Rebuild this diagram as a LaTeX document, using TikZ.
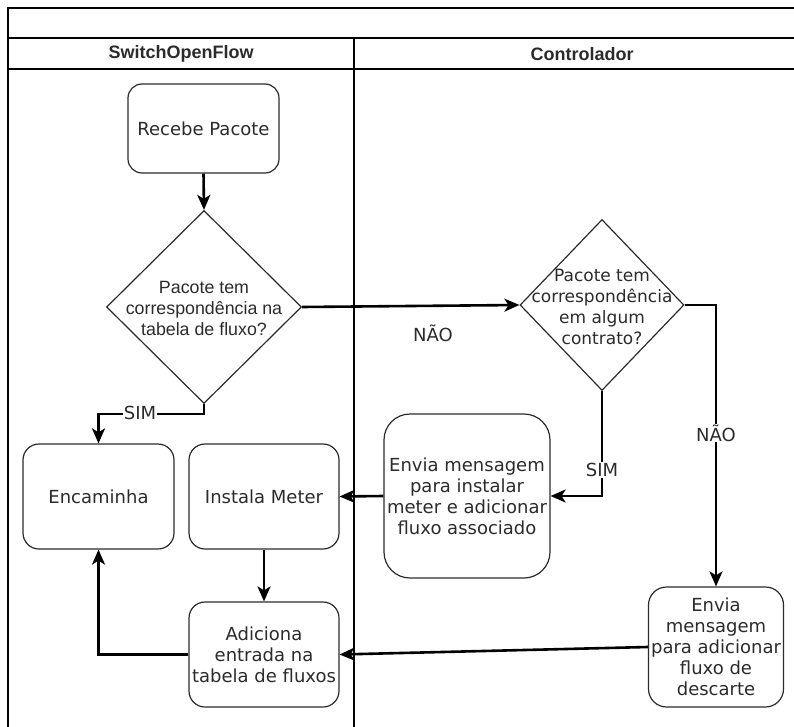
\documentclass[tikz,border=0pt]{standalone}
\usepackage{fontspec}
\setmainfont{DejaVu Sans}
\newfontfamily\arialfont{Liberation Sans}
\usetikzlibrary{shapes.geometric,arrows.meta}
\definecolor{ink}{HTML}{2B2B2B}
\begin{document}
\begin{tikzpicture}[x=1pt,y=-1pt,
  txt/.style={font=\fontsize{18}{21}\selectfont, text=ink, align=center},
  proc/.style={draw=ink, line width=1.2pt, rounded corners=#1, rectangle,
    inner sep=0pt, txt},
  proc/.default=15pt,
  decision/.style={draw=ink, line width=1.2pt, diamond, inner sep=0pt},
  arr/.style={draw=black, line width=2.6pt,
    -{Stealth[length=15pt,width=13pt,inset=4pt]}},
  lbl/.style={txt, fill=white, inner sep=1pt},
  frame/.style={draw=black, line width=1.7pt}]

\useasboundingbox (0,0) rectangle (794,727);

% swimlane frame
\draw[frame] (810,8) -- (8,8) -- (8,740);
\draw[frame] (8,38) -- (810,38);
\draw[frame] (8,69) -- (810,69);
\draw[frame, line width=1.3pt] (354,38) -- (354,740);
\node[font=\arialfont\bfseries\fontsize{18}{21}\selectfont, text=ink] (laneA) at (181,54) {SwitchOpenFlow};
\node[font=\arialfont\bfseries\fontsize{18}{21}\selectfont, text=ink] (laneB) at (582,54) {Controlador};

% switch lane
\node[proc=14pt, minimum width=151pt, minimum height=89pt] (rp) at (203.5,128.5) {Recebe Pacote};
\node[decision, minimum width=195pt, minimum height=193pt] (d1) at (204,307) {};
\node[txt, font=\arialfont\fontsize{17.8}{21}\selectfont] (d1t) at (204,308) {Pacote tem\\correspondência na\\tabela de fluxo?};
\node[proc=16pt, minimum width=151pt, minimum height=105pt] (enc) at (98.5,496.5) {Encaminha};
\node[proc=16pt, minimum width=150pt, minimum height=105pt] (im) at (264,496.5) {Instala Meter};
\node[proc=16pt, minimum width=150pt, minimum height=105pt] (adc) at (264,654.5) {Adiciona\\entrada na\\tabela de fluxos};

% controller lane
\node[decision, minimum width=164pt, minimum height=171pt] (d2) at (602,305) {};
\node[txt, font=\fontsize{17}{21}\selectfont] (d2t) at (602,307) {Pacote tem\\correspondência\\em algum\\contrato?};
\node[proc=26pt, minimum width=166pt, minimum height=164pt] (ev1) at (467,496) {Envia mensagem\\para instalar\\meter e adicionar\\fluxo associado};
\node[proc=18pt, minimum width=135pt, minimum height=120pt] (ev2) at (716,647) {Envia\\mensagem\\para adicionar\\fluxo de\\descarte};

% connectors
\draw[arr] (rp.south) -- (d1.north);
\draw[arr] (d1.east) -- (d2.west);
\node[txt] (no1) at (433,333) {NÃO};
\draw[arr] (d1.south) -- ++(0,10) -| (enc.north);
\node[lbl] (yes1) at (140,413) {SIM};
\draw[arr] (d2.south) |- (ev1.east);
\node[lbl] (yes2) at (602,470) {SIM};
\draw[arr] (d2.east) -| (ev2.north);
\node[lbl] (no2) at (716,433) {NÃO};
\draw[arr] (ev1.west) -- (im.east);
\draw[arr] (im.south) -- (adc.north);
\draw[arr] (ev2.west) -- (adc.east);
\draw[arr] (adc.west) -| (enc.south);
\end{tikzpicture}
\end{document}
